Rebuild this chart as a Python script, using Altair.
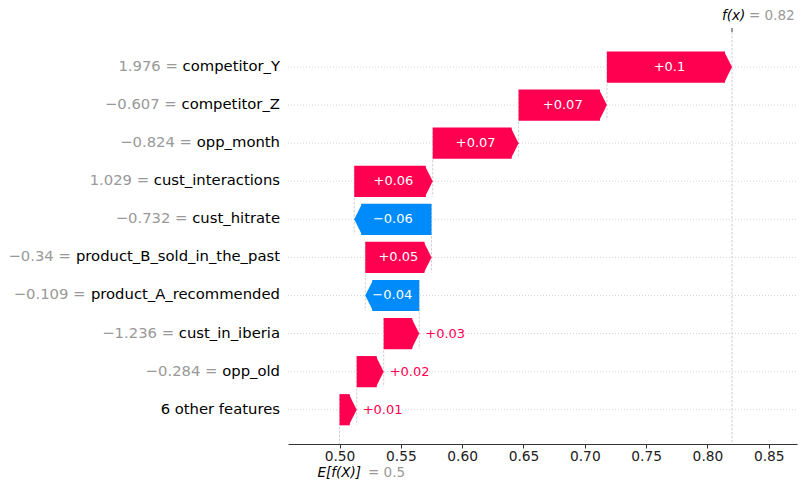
import altair as alt
import pandas as pd

# ---------------- data ----------------
features = ["competitor_Y", "competitor_Z", "opp_month", "cust_interactions",
            "cust_hitrate", "product_B_sold_in_the_past", "product_A_recommended",
            "cust_in_iberia", "opp_old", "6 other features"]
feature_values = ["1.976", "\u22120.607", "\u22120.824", "1.029", "\u22120.732",
                  "\u22120.34", "\u22120.109", "\u22121.236", "\u22120.284", ""]
shap_values = [0.102, 0.072, 0.070, 0.064, -0.063, 0.054, -0.044, 0.029, 0.022, 0.014]
base_value = 0.5
fx_value = 0.82
x_ticks = [0.50, 0.55, 0.60, 0.65, 0.70, 0.75, 0.80, 0.85]

# ---------------- style / layout ----------------
PINK = "#ff0051"
BLUE = "#008bfb"
GRAY = "#999999"
FONT = "DejaVu Sans"
W, H = 509, 412
X_DOM = [0.458, 0.873]
Y_DOM = [-0.92, 9.9]
LABEL_FS = 14.8
BAR_FS = 13
TICK_FS = 13.8
HEAD_PX = 7
BAR_HALF = 0.41
HEAD_SIZE = (2 * BAR_HALF * H / (Y_DOM[1] - Y_DOM[0])) ** 2

# DejaVu Sans advance widths (units of 2048 per em)
DV = {" ": 651, ".": 651, "=": 1716, "\u2212": 1716, "+": 1716, "-": 739, "_": 1024,
      "a": 1255, "b": 1300, "c": 1126, "d": 1300, "e": 1260, "f": 721, "g": 1300,
      "h": 1298, "i": 569, "j": 569, "k": 1186, "l": 569, "m": 1995, "n": 1298,
      "o": 1253, "p": 1300, "q": 1300, "r": 842, "s": 1067, "t": 803, "u": 1298,
      "v": 1212, "w": 1675, "x": 1212, "y": 1212, "z": 1075,
      "A": 1401, "B": 1405, "Y": 1251, "Z": 1405}
for d in "0123456789":
    DV[d] = 1303


def text_w(s, size):
    return sum(DV.get(c, 1200) for c in s) / 2048 * size


def fmt(v):
    s = f"{v:+.2f}".rstrip("0").rstrip(".")
    return s.replace("-", "\u2212")


px_per_unit = W / (X_DOM[1] - X_DOM[0])
n = len(features)
starts = [0.0] * n
ends = [0.0] * n
cum = base_value
for i in reversed(range(n)):
    starts[i] = cum
    cum += shap_values[i]
    ends[i] = cum

NAME_RIGHT_PX = -8
recs = []
for i in range(n):
    lab = fmt(shap_values[i])
    bar_px = abs(shap_values[i]) * px_per_unit
    inside = text_w(lab, BAR_FS) + 4 < bar_px
    name_w = text_w(features[i], LABEL_FS)
    val_right_px = NAME_RIGHT_PX - name_w - text_w(" ", LABEL_FS)
    recs.append(dict(
        row=i, feature=features[i],
        fval=(feature_values[i] + " =") if feature_values[i] else "",
        shap=shap_values[i], start=starts[i], end=ends[i],
        mid=(starts[i] + ends[i]) / 2, label=lab, inside=inside,
        name_x=X_DOM[0] + NAME_RIGHT_PX / px_per_unit,
        val_x=X_DOM[0] + val_right_px / px_per_unit,
    ))
df = pd.DataFrame(recs)

xs = alt.Scale(domain=X_DOM, nice=False, zero=False)
ys = alt.Scale(domain=Y_DOM, reverse=True, nice=False, zero=False)

base = alt.Chart(df)

grid = base.mark_rule(color="#cccccc", strokeDash=[1, 2], strokeWidth=0.8).encode(
    y=alt.Y("row:Q", scale=ys, axis=None), x=alt.value(0), x2=alt.value(W))

conn = base.transform_calculate(
    y1="datum.row - 0.4", y2="datum.row + 1.4"
).mark_rule(color="#bbbbbb", strokeDash=[2.5, 1.5], strokeWidth=0.7, clip=True).encode(
    x=alt.X("start:Q", scale=xs), y=alt.Y("y1:Q", scale=ys), y2="y2:Q")

fxdf = pd.DataFrame({"v": [fx_value]})
fxline = alt.Chart(fxdf).mark_rule(color="#bbbbbb", strokeDash=[2.5, 1.5], strokeWidth=0.7).encode(
    x=alt.X("v:Q", scale=xs), y=alt.value(0), y2=alt.value(H))
fxtick = alt.Chart(fxdf).mark_rule(color="#333333", strokeWidth=1).encode(
    x=alt.X("v:Q", scale=xs), y=alt.value(-4), y2=alt.value(0))
fxlab1 = alt.Chart(fxdf).mark_text(align="left", baseline="middle", dx=-10, font=FONT,
                                   fontSize=13.5, fontStyle="italic", color="#000000").encode(
    x=alt.X("v:Q", scale=xs), y=alt.value(-16), text=alt.value("f(x)"))
fxlab2 = alt.Chart(fxdf).mark_text(align="left", baseline="middle", dx=17, font=FONT,
                                   fontSize=13.5, color=GRAY).encode(
    x=alt.X("v:Q", scale=xs), y=alt.value(-16), text=alt.value("= " + f"{fx_value:g}"))

bdf = pd.DataFrame({"v": [base_value]})
elab1 = alt.Chart(bdf).mark_text(align="left", baseline="middle", dx=-22, font=FONT,
                                 fontSize=13.5, fontStyle="italic", color="#000000").encode(
    x=alt.X("v:Q", scale=xs), y=alt.value(H + 29), text=alt.value("E[f(X)]"))
elab2 = alt.Chart(bdf).mark_text(align="left", baseline="middle", dx=28.5, font=FONT,
                                 fontSize=13.5, color=GRAY).encode(
    x=alt.X("v:Q", scale=xs), y=alt.value(H + 29), text=alt.value("= " + f"{base_value:g}"))

bar_enc = dict(
    x=alt.X("start:Q", scale=xs, title=None,
            axis=alt.Axis(values=x_ticks, format=".2f", grid=False, labelFont=FONT,
                          labelFontSize=TICK_FS, labelColor="#222222", domainColor="#333333",
                          tickColor="#333333", tickSize=4, labelPadding=1)),
    x2="end:Q",
    y=alt.Y("y1:Q", scale=ys), y2="y2:Q")

pos_body = base.transform_filter("datum.shap > 0").transform_calculate(
    y1=f"datum.row - {BAR_HALF}", y2=f"datum.row + {BAR_HALF}"
).mark_rect(color=PINK, x2Offset=-HEAD_PX).encode(**bar_enc)
neg_body = base.transform_filter("datum.shap < 0").transform_calculate(
    y1=f"datum.row - {BAR_HALF}", y2=f"datum.row + {BAR_HALF}"
).mark_rect(color=BLUE, x2Offset=HEAD_PX).encode(**bar_enc)

pos_head = base.transform_filter("datum.shap > 0").mark_point(
    shape="M-0.5,-1L0,0L-0.5,1Z", size=HEAD_SIZE, filled=True, opacity=1,
    color=PINK, strokeWidth=0).encode(x=alt.X("end:Q", scale=xs), y=alt.Y("row:Q", scale=ys))
neg_head = base.transform_filter("datum.shap < 0").mark_point(
    shape="M0.5,-1L0,0L0.5,1Z", size=HEAD_SIZE, filled=True, opacity=1,
    color=BLUE, strokeWidth=0).encode(x=alt.X("end:Q", scale=xs), y=alt.Y("row:Q", scale=ys))

in_text = base.transform_filter("datum.inside").mark_text(
    align="center", baseline="middle", font=FONT, fontSize=BAR_FS, color="white").encode(
    x=alt.X("mid:Q", scale=xs), y=alt.Y("row:Q", scale=ys), text="label:N")
out_pos = base.transform_filter("!datum.inside && datum.shap > 0").mark_text(
    align="left", baseline="middle", dx=6, font=FONT, fontSize=BAR_FS, color=PINK).encode(
    x=alt.X("end:Q", scale=xs), y=alt.Y("row:Q", scale=ys), text="label:N")
out_neg = base.transform_filter("!datum.inside && datum.shap < 0").mark_text(
    align="right", baseline="middle", dx=-6, font=FONT, fontSize=BAR_FS, color=BLUE).encode(
    x=alt.X("end:Q", scale=xs), y=alt.Y("row:Q", scale=ys), text="label:N")

names = base.mark_text(align="right", baseline="middle", font=FONT, fontSize=LABEL_FS,
                       color="#000000").encode(
    x=alt.X("name_x:Q", scale=xs), y=alt.Y("row:Q", scale=ys), text="feature:N")
vals = base.mark_text(align="right", baseline="middle", font=FONT, fontSize=LABEL_FS,
                      color=GRAY).encode(
    x=alt.X("val_x:Q", scale=xs), y=alt.Y("row:Q", scale=ys), text="fval:N")

chart = alt.layer(
    grid, conn, fxline, pos_body, neg_body, pos_head, neg_head,
    in_text, out_pos, out_neg, names, vals, fxtick, fxlab1, fxlab2, elab1, elab2
).properties(
    width=W, height=H,
    padding={"left": 288, "top": 32, "right": 9, "bottom": 49},
    autosize=alt.AutoSizeParams(type="none"),
    background="white",
).configure_view(strokeWidth=0)

chart.save("out.html", embed_options={"renderer": "svg", "actions": False})
